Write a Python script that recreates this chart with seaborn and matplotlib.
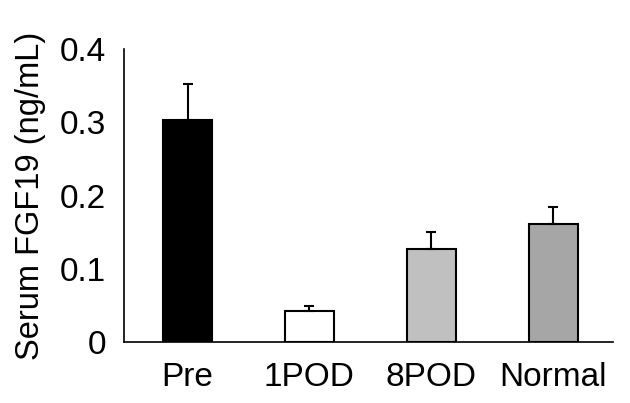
import matplotlib
matplotlib.use('Agg')
import matplotlib.pyplot as plt
import seaborn as sns
import pandas as pd

# Serum FGF19 by group
groups = ['Pre', '1POD', '8POD', 'Normal']
means = [0.303, 0.042, 0.127, 0.161]
sem = [0.049, 0.008, 0.023, 0.023]
bar_colors = ['#000000', '#ffffff', '#c0c0c0', '#a6a6a6']

sns.set_style('white')
plt.rcParams['font.family'] = ['Liberation Sans', 'DejaVu Sans']
plt.rcParams['text.color'] = 'black'
plt.rcParams['axes.labelcolor'] = 'black'
plt.rcParams['xtick.color'] = 'black'
plt.rcParams['ytick.color'] = 'black'

df = pd.DataFrame({'group': groups, 'value': means})

fig = plt.figure(figsize=(6.3, 4.03), dpi=100)
ax = fig.add_axes([0.197, 0.151, 0.776, 0.727])

sns.barplot(data=df, x='group', y='value', hue='group', palette=bar_colors,
            width=0.4, edgecolor='black', linewidth=1.5, legend=False, ax=ax)

# upper-only error bars
ax.errorbar(range(len(groups)), means, yerr=[[0] * len(sem), sem],
            fmt='none', ecolor='black', elinewidth=1.5, capsize=3.5,
            capthick=1.5, zorder=1)

ax.set_ylim(0, 0.4)
ax.set_xlim(-0.52, 3.49)
ax.set_yticks([0, 0.1, 0.2, 0.3, 0.4])
ax.set_yticklabels(['0', '0.1', '0.2', '0.3', '0.4'])
ax.set_xlabel('')
ax.set_ylabel('Serum FGF19 (ng/mL)', fontsize=23.5, labelpad=10)

sns.despine(ax=ax)
for side in ['left', 'bottom']:
    ax.spines[side].set_color('black')
    ax.spines[side].set_linewidth(1.2)

ax.tick_params(axis='y', direction='out', length=4, width=1.2,
               labelsize=24, pad=9)
ax.tick_params(axis='x', length=0, labelsize=24, pad=14)

fig.savefig('out.png', dpi=100)
